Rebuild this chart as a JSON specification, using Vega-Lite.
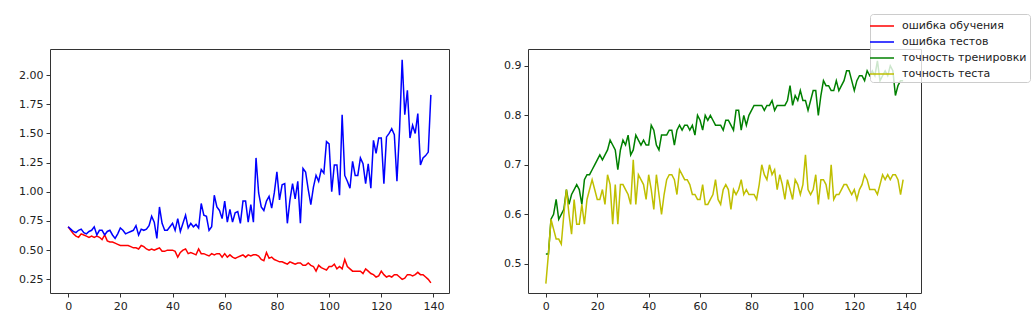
{
  "$schema": "https://vega.github.io/schema/vega-lite/v6.json",
  "padding": {"left": 18, "top": 13, "right": 0, "bottom": 0},
  "background": "white",
  "data": {"values": [
{"эпоха":0,"ошибка обучения":0.70,"ошибка тестов":0.70,"точность тренировки":0.52,"точность теста":0.46},
{"эпоха":1,"ошибка обучения":0.67,"ошибка тестов":0.68,"точность тренировки":0.52,"точность теста":0.52},
{"эпоха":2,"ошибка обучения":0.64,"ошибка тестов":0.66,"точность тренировки":0.59,"точность теста":0.59},
{"эпоха":3,"ошибка обучения":0.62,"ошибка тестов":0.65,"точность тренировки":0.60,"точность теста":0.57},
{"эпоха":4,"ошибка обучения":0.61,"ошибка тестов":0.67,"точность тренировки":0.63,"точность теста":0.55},
{"эпоха":5,"ошибка обучения":0.64,"ошибка тестов":0.68,"точность тренировки":0.59,"точность теста":0.55},
{"эпоха":6,"ошибка обучения":0.63,"ошибка тестов":0.65,"точность тренировки":0.60,"точность теста":0.54},
{"эпоха":7,"ошибка обучения":0.62,"ошибка тестов":0.64,"точность тренировки":0.61,"точность теста":0.60},
{"эпоха":8,"ошибка обучения":0.61,"ошибка тестов":0.66,"точность тренировки":0.65,"точность теста":0.65},
{"эпоха":9,"ошибка обучения":0.62,"ошибка тестов":0.67,"точность тренировки":0.62,"точность теста":0.60},
{"эпоха":10,"ошибка обучения":0.61,"ошибка тестов":0.70,"точность тренировки":0.64,"точность теста":0.56},
{"эпоха":11,"ошибка обучения":0.62,"ошибка тестов":0.63,"точность тренировки":0.65,"точность теста":0.63},
{"эпоха":12,"ошибка обучения":0.61,"ошибка тестов":0.67,"точность тренировки":0.66,"точность теста":0.58},
{"эпоха":13,"ошибка обучения":0.59,"ошибка тестов":0.67,"точность тренировки":0.65,"точность теста":0.58},
{"эпоха":14,"ошибка обучения":0.63,"ошибка тестов":0.63,"точность тренировки":0.62,"точность теста":0.62},
{"эпоха":15,"ошибка обучения":0.58,"ошибка тестов":0.66,"точность тренировки":0.67,"точность теста":0.58},
{"эпоха":16,"ошибка обучения":0.57,"ошибка тестов":0.67,"точность тренировки":0.68,"точность теста":0.63},
{"эпоха":17,"ошибка обучения":0.57,"ошибка тестов":0.63,"точность тренировки":0.68,"точность теста":0.65},
{"эпоха":18,"ошибка обучения":0.56,"ошибка тестов":0.60,"точность тренировки":0.69,"точность теста":0.67},
{"эпоха":19,"ошибка обучения":0.55,"ошибка тестов":0.64,"точность тренировки":0.70,"точность теста":0.65},
{"эпоха":20,"ошибка обучения":0.54,"ошибка тестов":0.69,"точность тренировки":0.71,"точность теста":0.63},
{"эпоха":21,"ошибка обучения":0.54,"ошибка тестов":0.67,"точность тренировки":0.72,"точность теста":0.63},
{"эпоха":22,"ошибка обучения":0.54,"ошибка тестов":0.64,"точность тренировки":0.71,"точность теста":0.65},
{"эпоха":23,"ошибка обучения":0.54,"ошибка тестов":0.65,"точность тренировки":0.72,"точность теста":0.62},
{"эпоха":24,"ошибка обучения":0.53,"ошибка тестов":0.66,"точность тренировки":0.73,"точность теста":0.68},
{"эпоха":25,"ошибка обучения":0.52,"ошибка тестов":0.67,"точность тренировки":0.75,"точность теста":0.66},
{"эпоха":26,"ошибка обучения":0.52,"ошибка тестов":0.71,"точность тренировки":0.74,"точность теста":0.58},
{"эпоха":27,"ошибка обучения":0.51,"ошибка тестов":0.63,"точность тренировки":0.73,"точность теста":0.66},
{"эпоха":28,"ошибка обучения":0.54,"ошибка тестов":0.68,"точность тренировки":0.69,"точность теста":0.58},
{"эпоха":29,"ошибка обучения":0.53,"ошибка тестов":0.67,"точность тренировки":0.73,"точность теста":0.66},
{"эпоха":30,"ошибка обучения":0.51,"ошибка тестов":0.68,"точность тренировки":0.75,"точность теста":0.66},
{"эпоха":31,"ошибка обучения":0.50,"ошибка тестов":0.71,"точность тренировки":0.74,"точность теста":0.65},
{"эпоха":32,"ошибка обучения":0.51,"ошибка тестов":0.79,"точность тренировки":0.76,"точность теста":0.64},
{"эпоха":33,"ошибка обучения":0.50,"ошибка тестов":0.74,"точность тренировки":0.72,"точность теста":0.62},
{"эпоха":34,"ошибка обучения":0.51,"ошибка тестов":0.60,"точность тренировки":0.73,"точность теста":0.71},
{"эпоха":35,"ошибка обучения":0.52,"ошибка тестов":0.87,"точность тренировки":0.76,"точность теста":0.62},
{"эпоха":36,"ошибка обучения":0.49,"ошибка тестов":0.73,"точность тренировки":0.75,"точность теста":0.68},
{"эпоха":37,"ошибка обучения":0.49,"ошибка тестов":0.67,"точность тренировки":0.74,"точность теста":0.67},
{"эпоха":38,"ошибка обучения":0.50,"ошибка тестов":0.67,"точность тренировки":0.75,"точность теста":0.66},
{"эпоха":39,"ошибка обучения":0.50,"ошибка тестов":0.70,"точность тренировки":0.74,"точность теста":0.63},
{"эпоха":40,"ошибка обучения":0.50,"ошибка тестов":0.73,"точность тренировки":0.74,"точность теста":0.68},
{"эпоха":41,"ошибка обучения":0.49,"ошибка тестов":0.67,"точность тренировки":0.78,"точность теста":0.65},
{"эпоха":42,"ошибка обучения":0.44,"ошибка тестов":0.77,"точность тренировки":0.77,"точность теста":0.61},
{"эпоха":43,"ошибка обучения":0.48,"ошибка тестов":0.66,"точность тренировки":0.74,"точность теста":0.68},
{"эпоха":44,"ошибка обучения":0.50,"ошибка тестов":0.73,"точность тренировки":0.73,"точность теста":0.64},
{"эпоха":45,"ошибка обучения":0.51,"ошибка тестов":0.80,"точность тренировки":0.76,"точность теста":0.60},
{"эпоха":46,"ошибка обучения":0.47,"ошибка тестов":0.69,"точность тренировки":0.76,"точность теста":0.64},
{"эпоха":47,"ошибка обучения":0.48,"ошибка тестов":0.73,"точность тренировки":0.76,"точность теста":0.67},
{"эпоха":48,"ошибка обучения":0.47,"ошибка тестов":0.70,"точность тренировки":0.77,"точность теста":0.68},
{"эпоха":49,"ошибка обучения":0.46,"ошибка тестов":0.72,"точность тренировки":0.77,"точность теста":0.68},
{"эпоха":50,"ошибка обучения":0.51,"ошибка тестов":0.69,"точность тренировки":0.74,"точность теста":0.67},
{"эпоха":51,"ошибка обучения":0.47,"ошибка тестов":0.90,"точность тренировки":0.77,"точность теста":0.64},
{"эпоха":52,"ошибка обучения":0.47,"ошибка тестов":0.80,"точность тренировки":0.78,"точность теста":0.69},
{"эпоха":53,"ошибка обучения":0.46,"ошибка тестов":0.79,"точность тренировки":0.77,"точность теста":0.68},
{"эпоха":54,"ошибка обучения":0.45,"ошибка тестов":0.67,"точность тренировки":0.78,"точность теста":0.67},
{"эпоха":55,"ошибка обучения":0.47,"ошибка тестов":0.70,"точность тренировки":0.78,"точность теста":0.67},
{"эпоха":56,"ошибка обучения":0.46,"ошибка тестов":0.97,"точность тренировки":0.77,"точность теста":0.66},
{"эпоха":57,"ошибка обучения":0.47,"ошибка тестов":0.87,"точность тренировки":0.78,"точность теста":0.64},
{"эпоха":58,"ошибка обучения":0.47,"ошибка тестов":0.84,"точность тренировки":0.76,"точность теста":0.64},
{"эпоха":59,"ошибка обучения":0.44,"ошибка тестов":0.77,"точность тренировки":0.80,"точность теста":0.63},
{"эпоха":60,"ошибка обучения":0.47,"ошибка тестов":0.92,"точность тренировки":0.79,"точность теста":0.63},
{"эпоха":61,"ошибка обучения":0.44,"ошибка тестов":0.74,"точность тренировки":0.77,"точность теста":0.66},
{"эпоха":62,"ошибка обучения":0.46,"ошибка тестов":0.85,"точность тренировки":0.80,"точность теста":0.62},
{"эпоха":63,"ошибка обучения":0.44,"ошибка тестов":0.74,"точность тренировки":0.79,"точность теста":0.62},
{"эпоха":64,"ошибка обучения":0.43,"ошибка тестов":0.82,"точность тренировки":0.80,"точность теста":0.63},
{"эпоха":65,"ошибка обучения":0.44,"ошибка тестов":0.83,"точность тренировки":0.79,"точность теста":0.64},
{"эпоха":66,"ошибка обучения":0.45,"ошибка тестов":0.73,"точность тренировки":0.78,"точность теста":0.67},
{"эпоха":67,"ошибка обучения":0.46,"ошибка тестов":0.92,"точность тренировки":0.78,"точность теста":0.63},
{"эпоха":68,"ошибка обучения":0.44,"ошибка тестов":0.92,"точность тренировки":0.78,"точность теста":0.62},
{"эпоха":69,"ошибка обучения":0.46,"ошибка тестов":0.74,"точность тренировки":0.77,"точность теста":0.65},
{"эпоха":70,"ошибка обучения":0.45,"ошибка тестов":0.89,"точность тренировки":0.79,"точность теста":0.66},
{"эпоха":71,"ошибка обучения":0.46,"ошибка тестов":0.74,"точность тренировки":0.79,"точность теста":0.65},
{"эпоха":72,"ошибка обучения":0.46,"ошибка тестов":1.29,"точность тренировки":0.78,"точность теста":0.61},
{"эпоха":73,"ошибка обучения":0.45,"ошибка тестов":0.99,"точность тренировки":0.77,"точность теста":0.65},
{"эпоха":74,"ошибка обучения":0.42,"ошибка тестов":0.87,"точность тренировки":0.81,"точность теста":0.64},
{"эпоха":75,"ошибка обучения":0.41,"ошибка тестов":0.84,"точность тренировки":0.81,"точность теста":0.65},
{"эпоха":76,"ошибка обучения":0.48,"ошибка тестов":0.92,"точность тренировки":0.77,"точность теста":0.67},
{"эпоха":77,"ошибка обучения":0.43,"ошибка тестов":0.96,"точность тренировки":0.80,"точность теста":0.64},
{"эпоха":78,"ошибка обучения":0.44,"ошибка тестов":0.86,"точность тренировки":0.78,"точность теста":0.65},
{"эпоха":79,"ошибка обучения":0.42,"ошибка тестов":0.99,"точность тренировки":0.80,"точность теста":0.64},
{"эпоха":80,"ошибка обучения":0.41,"ошибка тестов":1.17,"точность тренировки":0.81,"точность теста":0.64},
{"эпоха":81,"ошибка обучения":0.40,"ошибка тестов":0.93,"точность тренировки":0.82,"точность теста":0.64},
{"эпоха":82,"ошибка обучения":0.40,"ошибка тестов":1.06,"точность тренировки":0.82,"точность теста":0.63},
{"эпоха":83,"ошибка обучения":0.39,"ошибка тестов":1.07,"точность тренировки":0.82,"точность теста":0.66},
{"эпоха":84,"ошибка обучения":0.38,"ошибка тестов":0.73,"точность тренировки":0.82,"точность теста":0.70},
{"эпоха":85,"ошибка обучения":0.40,"ошибка тестов":0.93,"точность тренировки":0.81,"точность теста":0.68},
{"эпоха":86,"ошибка обучения":0.39,"ошибка тестов":1.07,"точность тренировки":0.82,"точность теста":0.67},
{"эпоха":87,"ошибка обучения":0.38,"ошибка тестов":0.94,"точность тренировки":0.82,"точность теста":0.70},
{"эпоха":88,"ошибка обучения":0.39,"ошибка тестов":1.09,"точность тренировки":0.83,"точность теста":0.68},
{"эпоха":89,"ошибка обучения":0.39,"ошибка тестов":0.73,"точность тренировки":0.81,"точность теста":0.69},
{"эпоха":90,"ошибка обучения":0.37,"ошибка тестов":1.20,"точность тренировки":0.82,"точность теста":0.65},
{"эпоха":91,"ошибка обучения":0.37,"ошибка тестов":1.17,"точность тренировки":0.82,"точность теста":0.68},
{"эпоха":92,"ошибка обучения":0.39,"ошибка тестов":1.02,"точность тренировки":0.82,"точность теста":0.66},
{"эпоха":93,"ошибка обучения":0.37,"ошибка тестов":0.89,"точность тренировки":0.82,"точность теста":0.63},
{"эпоха":94,"ошибка обучения":0.36,"ошибка тестов":1.04,"точность тренировки":0.83,"точность теста":0.67},
{"эпоха":95,"ошибка обучения":0.32,"ошибка тестов":1.14,"точность тренировки":0.86,"точность теста":0.65},
{"эпоха":96,"ошибка обучения":0.37,"ошибка тестов":1.09,"точность тренировки":0.82,"точность теста":0.63},
{"эпоха":97,"ошибка обучения":0.35,"ошибка тестов":1.19,"точность тренировки":0.84,"точность теста":0.67},
{"эпоха":98,"ошибка обучения":0.34,"ошибка тестов":1.16,"точность тренировки":0.83,"точность теста":0.66},
{"эпоха":99,"ошибка обучения":0.33,"ошибка тестов":1.43,"точность тренировки":0.85,"точность теста":0.64},
{"эпоха":100,"ошибка обучения":0.36,"ошибка тестов":1.41,"точность тренировки":0.83,"точность теста":0.66},
{"эпоха":101,"ошибка обучения":0.36,"ошибка тестов":1.00,"точность тренировки":0.83,"точность теста":0.72},
{"эпоха":102,"ошибка обучения":0.38,"ошибка тестов":1.23,"точность тренировки":0.81,"точность теста":0.65},
{"эпоха":103,"ошибка обучения":0.34,"ошибка тестов":1.23,"точность тренировки":0.83,"точность теста":0.64},
{"эпоха":104,"ошибка обучения":0.36,"ошибка тестов":0.97,"точность тренировки":0.85,"точность теста":0.65},
{"эпоха":105,"ошибка обучения":0.34,"ошибка тестов":1.66,"точность тренировки":0.85,"точность теста":0.68},
{"эпоха":106,"ошибка обучения":0.42,"ошибка тестов":1.14,"точность тренировки":0.80,"точность теста":0.62},
{"эпоха":107,"ошибка обучения":0.36,"ошибка тестов":1.09,"точность тренировки":0.84,"точность теста":0.67},
{"эпоха":108,"ошибка обучения":0.34,"ошибка тестов":1.03,"точность тренировки":0.87,"точность теста":0.67},
{"эпоха":109,"ошибка обучения":0.32,"ошибка тестов":1.26,"точность тренировки":0.86,"точность теста":0.66},
{"эпоха":110,"ошибка обучения":0.32,"ошибка тестов":1.14,"точность тренировки":0.86,"точность теста":0.63},
{"эпоха":111,"ошибка обучения":0.32,"ошибка тестов":1.14,"точность тренировки":0.85,"точность теста":0.70},
{"эпоха":112,"ошибка обучения":0.32,"ошибка тестов":1.29,"точность тренировки":0.85,"точность теста":0.63},
{"эпоха":113,"ошибка обучения":0.30,"ошибка тестов":1.24,"точность тренировки":0.87,"точность теста":0.64},
{"эпоха":114,"ошибка обучения":0.34,"ошибка тестов":1.07,"точность тренировки":0.85,"точность теста":0.64},
{"эпоха":115,"ошибка обучения":0.32,"ошибка тестов":1.24,"точность тренировки":0.86,"точность теста":0.65},
{"эпоха":116,"ошибка обучения":0.30,"ошибка тестов":1.03,"точность тренировки":0.87,"точность теста":0.66},
{"эпоха":117,"ошибка обучения":0.29,"ошибка тестов":1.44,"точность тренировки":0.89,"точность теста":0.66},
{"эпоха":118,"ошибка обучения":0.27,"ошибка тестов":1.33,"точность тренировки":0.89,"точность теста":0.65},
{"эпоха":119,"ошибка обучения":0.28,"ошибка тестов":1.46,"точность тренировки":0.87,"точность теста":0.64},
{"эпоха":120,"ошибка обучения":0.32,"ошибка тестов":1.46,"точность тренировки":0.85,"точность теста":0.65},
{"эпоха":121,"ошибка обучения":0.29,"ошибка тестов":1.07,"точность тренировки":0.87,"точность теста":0.63},
{"эпоха":122,"ошибка обучения":0.27,"ошибка тестов":1.47,"точность тренировки":0.88,"точность теста":0.65},
{"эпоха":123,"ошибка обучения":0.28,"ошибка тестов":1.50,"точность тренировки":0.88,"точность теста":0.66},
{"эпоха":124,"ошибка обучения":0.27,"ошибка тестов":1.54,"точность тренировки":0.87,"точность теста":0.68},
{"эпоха":125,"ошибка обучения":0.29,"ошибка тестов":1.49,"точность тренировки":0.89,"точность теста":0.67},
{"эпоха":126,"ошибка обучения":0.29,"ошибка тестов":1.09,"точность тренировки":0.88,"точность теста":0.65},
{"эпоха":127,"ошибка обучения":0.27,"ошибка тестов":1.53,"точность тренировки":0.89,"точность теста":0.65},
{"эпоха":128,"ошибка обучения":0.25,"ошибка тестов":2.13,"точность тренировки":0.88,"точность теста":0.65},
{"эпоха":129,"ошибка обучения":0.26,"ошибка тестов":1.66,"точность тренировки":0.91,"точность теста":0.64},
{"эпоха":130,"ошибка обучения":0.29,"ошибка тестов":1.87,"точность тренировки":0.87,"точность теста":0.66},
{"эпоха":131,"ошибка обучения":0.29,"ошибка тестов":1.46,"точность тренировки":0.88,"точность теста":0.68},
{"эпоха":132,"ошибка обучения":0.28,"ошибка тестов":1.57,"точность тренировки":0.89,"точность теста":0.67},
{"эпоха":133,"ошибка обучения":0.29,"ошибка тестов":1.50,"точность тренировки":0.88,"точность теста":0.68},
{"эпоха":134,"ошибка обучения":0.31,"ошибка тестов":1.67,"точность тренировки":0.90,"точность теста":0.67},
{"эпоха":135,"ошибка обучения":0.29,"ошибка тестов":1.23,"точность тренировки":0.89,"точность теста":0.68},
{"эпоха":136,"ошибка обучения":0.29,"ошибка тестов":1.29,"точность тренировки":0.84,"точность теста":0.68},
{"эпоха":137,"ошибка обучения":0.27,"ошибка тестов":1.31,"точность тренировки":0.86,"точность теста":0.67},
{"эпоха":138,"ошибка обучения":0.25,"ошибка тестов":1.34,"точность тренировки":0.87,"точность теста":0.64},
{"эпоха":139,"ошибка обучения":0.22,"ошибка тестов":1.83,"точность тренировки":0.87,"точность теста":0.67}
  ]},
  "transform": [
    {"fold": ["ошибка обучения", "ошибка тестов", "точность тренировки", "точность теста"], "as": ["серия", "значение"]}
  ],
  "spacing": 53,
  "hconcat": [
    {
      "width": 399,
      "height": 244,
      "transform": [{"filter": {"field": "серия", "oneOf": ["ошибка обучения", "ошибка тестов"]}}],
      "mark": {"type": "line", "strokeWidth": 1.5, "clip": true},
      "encoding": {
        "x": {"field": "эпоха", "type": "quantitative",
              "scale": {"domain": [-6.95, 145.95], "nice": false, "zero": false},
              "axis": {"values": [0, 20, 40, 60, 80, 100, 120, 140], "title": null}},
        "y": {"field": "значение", "type": "quantitative",
              "scale": {"domain": [0.133, 2.223], "nice": false, "zero": false},
              "axis": {"values": [0.25, 0.5, 0.75, 1.0, 1.25, 1.5, 1.75, 2.0], "format": ".2f", "title": null}},
        "color": {"field": "серия", "type": "nominal",
                  "scale": {"domain": ["ошибка обучения", "ошибка тестов", "точность тренировки", "точность теста"],
                            "range": ["#ff0000", "#0000ff", "#008000", "#bfbf00"]},
                  "legend": null}
      }
    },
    {
      "width": 393,
      "height": 244,
      "transform": [{"filter": {"field": "серия", "oneOf": ["точность тренировки", "точность теста"]}}],
      "mark": {"type": "line", "strokeWidth": 1.5, "clip": true},
      "encoding": {
        "x": {"field": "эпоха", "type": "quantitative",
              "scale": {"domain": [-6.95, 145.95], "nice": false, "zero": false},
              "axis": {"values": [0, 20, 40, 60, 80, 100, 120, 140], "title": null}},
        "y": {"field": "значение", "type": "quantitative",
              "scale": {"domain": [0.441, 0.934], "nice": false, "zero": false},
              "axis": {"values": [0.5, 0.6, 0.7, 0.8, 0.9], "format": ".1f", "title": null}},
        "color": {"field": "серия", "type": "nominal",
                  "scale": {"domain": ["ошибка обучения", "ошибка тестов", "точность тренировки", "точность теста"],
                            "range": ["#ff0000", "#0000ff", "#008000", "#bfbf00"]},
                  "legend": {"orient": "none", "legendX": 342, "legendY": -35, "title": null}}
      }
    }
  ],
  "resolve": {"scale": {"color": "independent"}, "legend": {"color": "independent"}},
  "config": {
    "font": "DejaVu Sans",
    "view": {"stroke": "#333", "strokeWidth": 1},
    "axis": {"grid": false, "domain": false, "tickColor": "#333", "tickSize": 4, "labelFontSize": 11,
             "labelColor": "#222", "labelPadding": 3, "labelFont": "DejaVu Sans", "labelOverlap": false},
    "legend": {"symbolType": "M-1.5,0H1.5", "symbolSize": 256, "symbolStrokeWidth": 1.5, "labelFontSize": 11,
               "labelFont": "DejaVu Sans", "labelColor": "#222", "labelOffset": 11, "rowPadding": 2,
               "padding": 3, "cornerRadius": 3, "strokeColor": "#cccccc", "fillColor": "rgba(255,255,255,0.8)",
               "labelLimit": 300}
  }
}
